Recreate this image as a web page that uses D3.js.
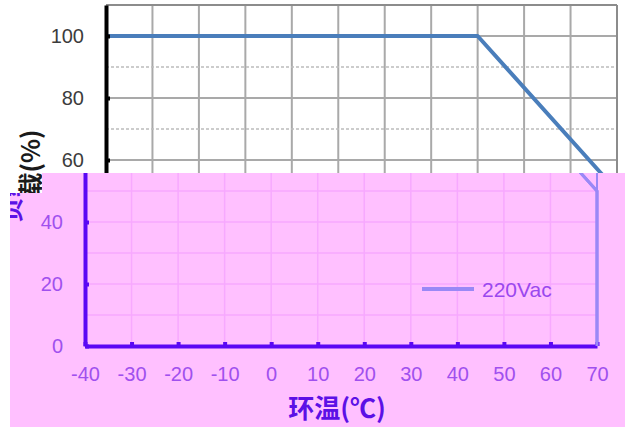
<!DOCTYPE html>
<html><head><meta charset="utf-8">
<script src="https://cdn.jsdelivr.net/npm/d3@7"></script>
<style>html,body{margin:0;padding:0;background:#fff;}svg{display:block;}</style>
</head><body>
<svg id="c" width="625" height="430"></svg>
<script>
// ---- data ----
const temps = [-40, 40, 70, 70];
const loads = [100, 100, 50, 0];
const xTicks = [-40, -30, -20, -10, 0, 10, 20, 30, 40, 50, 60, 70];
const yTicks = [0, 20, 40, 60, 80, 100];
const gridY = [10, 20, 30, 40, 50, 60, 70, 80, 90, 100, 110];
const seriesName = "220Vac";
const xTitle = "环温(℃)";
const yTitle = "负载(%)";

const W = 625, H = 430;
const OV_TOP = 173;
const svg = d3.select("#c");
const y = d3.scaleLinear().domain([0, 110]).range([346, 5]);
const pts = temps.map((t, i) => ({t, v: loads[i]}));
const numFont = "'Liberation Sans', Arial, sans-serif";
const cjkFont = "'Noto Sans CJK SC', sans-serif";

function drawChart(g, xr, st) {
  const x = d3.scaleLinear().domain([-40, 70]).range(xr);
  // vertical grid
  g.append("g").selectAll("line").data(xTicks.slice(1)).join("line")
    .attr("x1", d => x(d)).attr("x2", d => x(d))
    .attr("y1", y(110)).attr("y2", y(0))
    .attr("stroke", st.grid).attr("stroke-width", st.gridW);
  // horizontal grid
  const major = d => d % 20 === 0 || d === 110;
  g.append("g").selectAll("line").data(gridY).join("line")
    .attr("x1", x(-40)).attr("x2", x(70))
    .attr("y1", d => y(d)).attr("y2", d => y(d))
    .attr("stroke", d => major(d) ? st.grid : st.gridMinor)
    .attr("stroke-width", d => major(d) ? st.gridW : st.gridMinorW)
    .attr("stroke-dasharray", d => major(d) ? null : st.dash);
  // top / right border
  g.append("line").attr("x1", x(-40)).attr("x2", x(70)).attr("y1", y(110)).attr("y2", y(110))
    .attr("stroke", st.border).attr("stroke-width", 2);
  g.append("line").attr("x1", x(70)).attr("x2", x(70)).attr("y1", y(110)).attr("y2", y(0))
    .attr("stroke", st.border).attr("stroke-width", 2);
  // series
  const line = d3.line().x(d => x(d.t)).y(d => y(d.v));
  g.append("path").datum(pts).attr("d", line)
    .attr("fill", "none").attr("stroke", st.series).attr("stroke-width", st.seriesW)
    .attr("stroke-linejoin", "round");
  // y axis
  const yVals = yTicks.filter(st.yLabelFilter);
  const ya = g.append("g").attr("transform", `translate(${x(-40)},0)`)
    .call(d3.axisLeft(y).tickValues(yVals).tickFormat(d => String(d))
      .tickSize(-4).tickSizeOuter(0).tickPadding(st.yPad));
  ya.select(".domain").attr("stroke", st.axis).attr("stroke-width", 4);
  ya.selectAll(".tick line").attr("stroke", st.axis).attr("stroke-width", 4);
  ya.selectAll(".tick text").attr("fill", st.label).attr("font-size", 20).attr("font-family", numFont);
  if (!st.lower) return x;
  // x axis
  const xa = g.append("g").attr("transform", `translate(0,${y(0)})`)
    .call(d3.axisBottom(x).tickValues(xTicks).tickFormat(d => String(d))
      .tickSize(-4).tickSizeOuter(0).tickPadding(21));
  xa.select(".domain").attr("stroke", st.axis).attr("stroke-width", 4);
  xa.selectAll(".tick line").attr("stroke", st.axis).attr("stroke-width", 4);
  xa.selectAll(".tick text").attr("fill", st.label).attr("font-size", 20).attr("font-family", numFont);
  // re-draw series end over axis corner
  g.append("path").datum(pts.slice(1)).attr("d", line)
    .attr("fill", "none").attr("stroke", st.series).attr("stroke-width", st.seriesW);
  // legend
  const lx = xr[0] + 337, ly = 289;
  g.append("line").attr("x1", lx).attr("x2", lx + 52).attr("y1", ly).attr("y2", ly)
    .attr("stroke", st.series).attr("stroke-width", 4);
  g.append("text").attr("x", lx + 60).attr("y", ly + 8).text(seriesName)
    .attr("fill", st.legendText).attr("font-size", 21).attr("font-family", numFont);
  // x title
  g.append("text").attr("x", (xr[0] + xr[1]) / 2 - 4).attr("y", 418).attr("text-anchor", "middle")
    .text(xTitle).attr("fill", st.title).attr("font-size", 26).attr("font-weight", "bold")
    .attr("font-family", cjkFont);
  return x;
}

function yTitleText(g, cx, color) {
  g.append("text").attr("transform", `translate(${cx},176) rotate(-90)`)
    .attr("text-anchor", "middle").attr("dy", "0.35em")
    .text(yTitle).attr("fill", color).attr("font-size", 25).attr("font-weight", "bold")
    .attr("font-family", cjkFont);
}

// base (original) rendering: only the upper part shows
const base = svg.append("g");
drawChart(base, [106, 617], {
  grid: "#a9a9a9", gridW: 2, gridMinor: "#bcbcbc", gridMinorW: 1.5, dash: "3,2",
  series: "#4a7ebb", seriesW: 4, axis: "#000", label: "#3c3c3c",
  border: "#8c8c8c", yPad: 22, lower: false,
  yLabelFilter: v => y(v) < OV_TOP - 8
});
yTitleText(base, 31, "#1a1a1a");

// tinted overlay region
const ovPath = "M42,173H625V427H10V193H42Z";
const defs = svg.append("defs");
defs.append("clipPath").attr("id", "ov").append("path").attr("d", ovPath);
const ov = svg.append("g").attr("clip-path", "url(#ov)");
ov.append("path").attr("d", ovPath).attr("fill", "#ffc0ff");
drawChart(ov, [85, 597], {
  grid: "#f7a9ff", gridW: 1.5, gridMinor: "#f7a9ff", gridMinorW: 1.5, dash: null,
  series: "#9a88f6", seriesW: 3, axis: "#5a08f4", label: "#a050ee",
  border: "#9a88f6", legendText: "#9a48ee", title: "#5c10e6", yPad: 22, lower: true,
  yLabelFilter: v => y(v) > OV_TOP + 8
});
yTitleText(ov, 11, "#5c10e6");
</script>
</body></html>
